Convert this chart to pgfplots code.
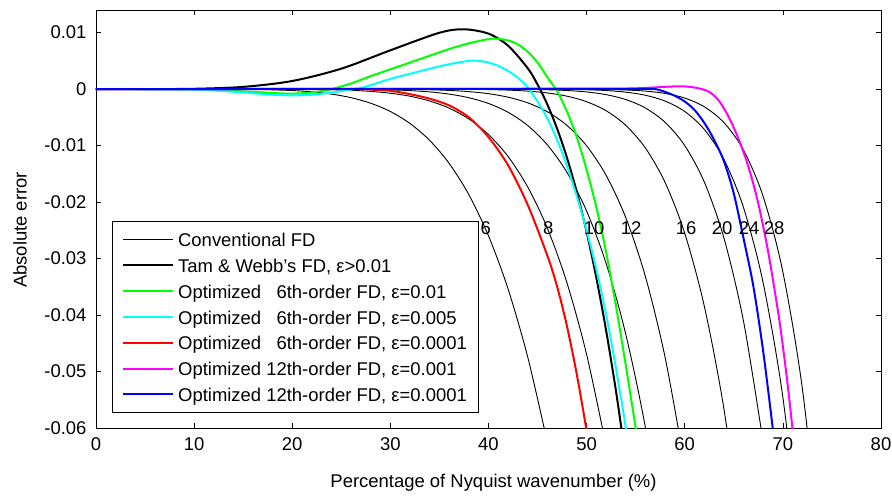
\documentclass[border=0pt]{standalone}
\usepackage{fontspec}
\setmainfont{Liberation Sans}
\usepackage{pgfplots}
\pgfplotsset{compat=1.18}
\definecolor{mgreen}{RGB}{0,255,0}
\definecolor{mcyan}{RGB}{0,255,255}
\definecolor{mred}{RGB}{255,0,0}
\definecolor{mmag}{RGB}{255,0,255}
\definecolor{mblue}{RGB}{0,0,255}
\newcommand\ff{\fontsize{18.45}{22}\selectfont}
\pgfplotsset{
  conv/.style={black, line width=0.9pt, smooth, no markers},
  opt/.style={line width=2pt, smooth, no markers},
}
\begin{document}
\begin{tikzpicture}
\begin{axis}[
  scale only axis, width=785pt, height=418pt,
  xmin=0, xmax=80, ymin=-0.06, ymax=0.014,
  xtick={0,10,20,30,40,50,60,70,80},
  xticklabels={0,10,20,30,40,50,60,70,80},
  ytick={-0.06,-0.05,-0.04,-0.03,-0.02,-0.01,0,0.01},
  yticklabels={-0.06,-0.05,-0.04,-0.03,-0.02,-0.01,0,0.01},
  tick align=inside, major tick length=5pt,
  axis line style={line width=0.9pt},
  every tick/.style={black, line width=0.7pt},
  tick label style={font=\ff},
  xticklabel style={yshift=-6.5pt},
  yticklabel style={xshift=-6pt},
  label style={font=\ff},
  xlabel={Percentage of Nyquist wavenumber (\%)},
  ylabel={Absolute error},
  xlabel style={at={(axis description cs:0.5064,-0.1435)}, anchor=base},
  ylabel style={at={(axis description cs:-0.0883,0.4737)}, anchor=base},
  legend cell align=left,
  legend image code/.code={\draw[mark repeat=2,mark phase=2,#1] plot coordinates {(0pt,0pt) (25pt,0pt) (50pt,0pt)};},
  legend style={at={(axis description cs:0.0204,0.0359)}, anchor=south west,
    draw=black, line width=0.7pt, font=\ff, inner xsep=9.5pt, inner ysep=7.8pt,
    row sep=4.83pt, nodes={inner sep=2pt, text height=15.8pt, text depth=1.2pt},
    /tikz/every odd column/.append style={column sep=2.3pt}},
]
% conventional FD, orders 6 ... 28
\addplot[conv] coordinates {(0,0)(10,-0.000002)(16,-0.000053)(20,-0.000256)(22,-0.000490)(24,-0.000886)(26,-0.001522)(28,-0.002504)(30,-0.003969)(32,-0.006088)(34,-0.009073)(36,-0.013176)(38,-0.018697)(40,-0.025982)(42,-0.035420)(44,-0.047453)(46,-0.062562)};
\addlegendentry{Conventional FD}
\addplot[conv, forget plot] coordinates {(0,0)(16,-0.000003)(20,-0.000022)(22,-0.00005)(24,-0.000107)(26,-0.000214)(28,-0.000405)(30,-0.000731)(32,-0.001263)(34,-0.002103)(36,-0.003387)(38,-0.005293)(40,-0.008051)(42,-0.011947)(44,-0.017332)(46,-0.024625)(48,-0.034320)(50,-0.046987)(52,-0.063270)};
\addplot[conv, forget plot] coordinates {(0,0)(24,-0.000013)(26,-0.000031)(28,-0.000067)(30,-0.000137)(32,-0.000267)(34,-0.000498)(36,-0.000888)(38,-0.001529)(40,-0.002544)(42,-0.004109)(44,-0.006453)(46,-0.009877)(48,-0.014764)(50,-0.021590)(52,-0.030932)(54,-0.043473)(56,-0.060009)(58,-0.081455)};
\addplot[conv, forget plot] coordinates {(0,0)(30,-0.000026)(32,-0.000058)(34,-0.000119)(36,-0.000236)(38,-0.000448)(40,-0.000815)(42,-0.001433)(44,-0.002435)(46,-0.004014)(48,-0.006434)(50,-0.010046)(52,-0.015310)(54,-0.022804)(56,-0.033245)(58,-0.047510)(60,-0.066608)};
\addplot[conv, forget plot] coordinates {(0,0)(36,-0.00001)(38,-0.00004)(40,-0.000086)(42,-0.000179)(44,-0.000356)(46,-0.000681)(48,-0.001254)(50,-0.002232)(52,-0.003846)(54,-0.006432)(56,-0.010450)(58,-0.016546)(60,-0.025539)(62,-0.038490)(64,-0.056700)(66,-0.081741)};
\addplot[conv, forget plot] coordinates {(0,0)(40,-0.00001)(42,-0.000023)(44,-0.000054)(46,-0.000118)(48,-0.000250)(50,-0.000507)(52,-0.000988)(54,-0.001855)(56,-0.003355)(58,-0.005885)(60,-0.009996)(62,-0.016482)(64,-0.026409)(66,-0.041189)(68,-0.062608)};
\addplot[conv, forget plot] coordinates {(0,0)(44,-0.000008)(46,-0.000021)(48,-0.000051)(50,-0.000117)(52,-0.000258)(54,-0.000543)(56,-0.001095)(58,-0.002122)(60,-0.003966)(62,-0.007156)(64,-0.012466)(66,-0.021026)(68,-0.034385)(70,-0.054580)(72,-0.084215)};
\addplot[conv, forget plot] coordinates {(0,0)(48,-0.000011)(50,-0.000027)(52,-0.000068)(54,-0.000161)(56,-0.000355)(58,-0.000771)(60,-0.001587)(62,-0.003137)(64,-0.005941)(66,-0.010835)(68,-0.019060)(70,-0.032374)(72,-0.053202)(74,-0.084651)};
% Tam & Webb
\addplot[opt, black] coordinates {(0,0)(5,0)(10,0.000053)(15,0.000389)(20,0.001434)(25,0.003615)(30,0.006867)(35,0.009973)(37.5,0.010589)(40,0.009814)(42,0.007678)(44,0.003678)(45,0.000812)(46,-0.002730)(47,-0.007029)(48,-0.012164)(49,-0.018227)(50,-0.025303)(51,-0.033485)(52,-0.042870)(53,-0.053554)(54,-0.065637)};
\addlegendentry{Tam \& Webb’s FD, ε>0.01}
\addplot[opt, mgreen] coordinates {(0,0)(10,-0.0001)(15,-0.0004)(18,-0.0007)(20,-0.0008)(22,-0.0006)(24,0)(26,0.0010)(28,0.0023)(30,0.0035)(32,0.0047)(34,0.0059)(36,0.0071)(38,0.0081)(40,0.00885)(41,0.0089)(42,0.0086)(43,0.0079)(44,0.0066)(45,0.0047)(46,0.0021)(47,-0.0004)(48,-0.0040)(49,-0.0085)(50,-0.0143)(51,-0.0210)(52,-0.0290)(53,-0.0385)(54,-0.0490)(55,-0.0600)(55.5,-0.0660)};
\addlegendentry{Optimized \hphantom{1}6th-order FD, ε=0.01}
\addplot[opt, mcyan] coordinates {(0,0)(10,-0.0001)(15,-0.0006)(18,-0.0010)(20,-0.0011)(22,-0.0010)(24,-0.0006)(26,-0.0001)(27,0.0002)(28,0.0007)(30,0.0018)(32,0.0027)(34,0.0036)(36,0.0044)(38,0.0050)(39,0.0050)(40,0.0047)(41,0.0041)(42,0.0032)(43,0.0020)(44,0.0003)(45,-0.0022)(46,-0.0052)(47,-0.0090)(48,-0.0136)(49,-0.0190)(50,-0.0250)(51,-0.0320)(52,-0.0400)(53,-0.0495)(54,-0.0600)(54.5,-0.066)};
\addlegendentry{Optimized \hphantom{1}6th-order FD, ε=0.005}
\addplot[opt, mred] coordinates {(0,0)(25,0)(28,-0.0001)(30,-0.0003)(32,-0.0009)(34,-0.0017)(36,-0.0029)(38,-0.0050)(40,-0.0085)(42,-0.0135)(44,-0.0205)(46,-0.0295)(47,-0.0350)(48,-0.0420)(49,-0.0505)(50,-0.0605)(50.5,-0.066)};
\addlegendentry{Optimized \hphantom{1}6th-order FD, ε=0.0001}
\addplot[opt, mmag] coordinates {(0,0)(40,0.00005)(50,0.0001)(54,0.0001)(56,0.0002)(58,0.0004)(59.5,0.0005)(60.5,0.0004)(61.5,0.0001)(62.5,-0.0005)(63.5,-0.0021)(64.5,-0.0050)(65.5,-0.0089)(66.5,-0.0138)(67.5,-0.0203)(68.5,-0.0288)(69.5,-0.0393)(70,-0.0455)(70.5,-0.0525)(71,-0.0605)(71.3,-0.066)};
\addlegendentry{Optimized 12th-order FD, ε=0.001}
\addplot[opt, mblue] coordinates {(0,0)(50,0.00005)(56,0.00005)(57,0)(58,-0.0005)(59,-0.0012)(60,-0.0022)(61,-0.0037)(62,-0.0060)(63,-0.0090)(64,-0.0128)(65,-0.0185)(66,-0.0265)(67,-0.0350)(68,-0.0465)(69,-0.0605)(69.4,-0.067)};
\addlegendentry{Optimized 12th-order FD, ε=0.0001}
% order labels
\node[font=\ff] at (axis cs:39.73,-0.02466) {6};
\node[font=\ff] at (axis cs:46.08,-0.02466) {8};
\node[font=\ff] at (axis cs:50.76,-0.02466) {10};
\node[font=\ff] at (axis cs:54.53,-0.02466) {12};
\node[font=\ff] at (axis cs:60.13,-0.02466) {16};
\node[font=\ff] at (axis cs:63.80,-0.02466) {20};
\node[font=\ff] at (axis cs:66.57,-0.02466) {24};
\node[font=\ff] at (axis cs:69.10,-0.02466) {28};
\end{axis}
\pgfresetboundingbox
\path[use as bounding box] (-96pt,-68pt) rectangle (796pt,428pt);
\end{tikzpicture}
\end{document}
